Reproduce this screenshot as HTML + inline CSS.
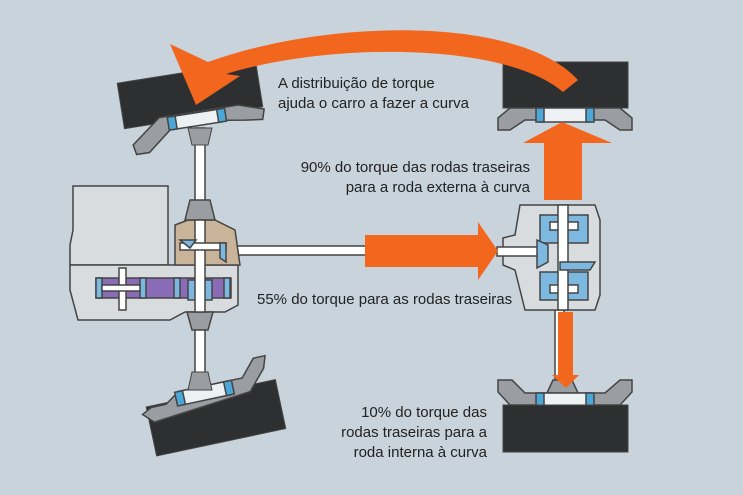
<!DOCTYPE html>
<html><head><style>
body{margin:0;background:#c9d3db;}
svg{display:block}
text{font-family:"Liberation Sans",sans-serif;font-size:15px;fill:#222}
</style></head><body>
<svg width="743" height="495" viewBox="0 0 743 495">
<rect width="743" height="495" fill="#c9d3db"/>
<g stroke="#444" stroke-width="1.5" fill="#fff">
<rect x="195" y="128" width="10" height="75"/>
<rect x="195" y="320" width="10" height="55"/>
<rect x="555" y="295" width="9" height="90"/>
<rect x="228" y="246" width="140" height="9"/>
</g>
<g transform="rotate(-9 190 95)">
<rect x="120" y="72" width="140" height="46" fill="#2d2f31" stroke="#444"/>
</g>
<g transform="rotate(-9 195 120)" stroke="#444" stroke-width="1.5">
<path d="M130 135 L160 112 L240 112 L265 120 L262 130 L245 128 L225 125 L170 125 L145 145 L132 145Z" fill="#9a9ea3"/>
<rect x="172" y="113" width="50" height="13" fill="#eef1f4"/>
<rect x="168" y="113" width="8" height="13" fill="#4aa7d8"/>
<rect x="218" y="113" width="8" height="13" fill="#4aa7d8"/>
</g>
<path d="M188 128 L212 128 L208 145 L192 145Z" fill="#9a9ea3" stroke="#444"/>
<g transform="rotate(-12 215 418)">
<rect x="150" y="393" width="132" height="50" fill="#2d2f31" stroke="#444"/>
</g>
<g transform="rotate(-12 210 395)" stroke="#444" stroke-width="1.5">
<path d="M140 400 L150 395 L165 395 L180 385 L245 385 L260 368 L272 368 L268 380 L250 400 L150 410Z" fill="#9a9ea3"/>
<rect x="180" y="385" width="50" height="14" fill="#eef1f4"/>
<rect x="176" y="385" width="8" height="14" fill="#4aa7d8"/>
<rect x="226" y="385" width="8" height="14" fill="#4aa7d8"/>
</g>
<path d="M192 372 L208 372 L212 390 L188 390Z" fill="#9a9ea3" stroke="#444"/>
<g stroke="#444" stroke-width="1.5">
<path d="M73 186 L168 186 L168 265 L70 265 L70 245 L73 230Z" fill="#d9dcdf"/>
<path d="M70 265 L238 265 L238 305 L225 312 L185 312 L170 320 L78 320 L70 290Z" fill="#d9dcdf"/>
<path d="M175 225 L188 220 L215 220 L235 230 L240 265 L175 265Z" fill="#c9b49a"/>
<path d="M190 200 L210 200 L215 220 L185 220Z" fill="#9a9ea3"/>
<path d="M187 312 L213 312 L208 330 L192 330Z" fill="#9a9ea3"/>
<rect x="96" y="278" width="135" height="20" fill="#8a6bb5"/>
<rect x="96" y="278" width="6" height="20" fill="#7db8e0"/>
<rect x="140" y="278" width="6" height="20" fill="#7db8e0"/>
<rect x="174" y="278" width="6" height="20" fill="#7db8e0"/>
<rect x="224" y="278" width="6" height="20" fill="#7db8e0"/>
<rect x="119" y="268" width="7" height="42" fill="#fff"/>
<rect x="102" y="285" width="38" height="6" fill="#fff"/>
<rect x="188" y="280" width="24" height="20" fill="#7db8e0"/>
<rect x="195" y="220" width="10" height="92" fill="#fff"/>
<rect x="180" y="243" width="46" height="7" fill="#fff"/>
<path d="M180 240 L196 240 L190 248Z" fill="#7db8e0"/>
<path d="M220 243 L226 243 L226 262 L220 258Z" fill="#7db8e0"/>
</g>
<g stroke="#444" stroke-width="1.5">
<path d="M520 205 L595 205 L600 220 L600 295 L595 310 L525 310 L515 270 L503 265 L503 238 L515 235Z" fill="#d9dcdf"/>
<rect x="497" y="247" width="45" height="9" fill="#fff"/>
<rect x="540" y="215" width="48" height="28" fill="#7db8e0"/>
<rect x="540" y="272" width="48" height="28" fill="#7db8e0"/>
<rect x="550" y="222" width="28" height="8" fill="#fff"/>
<rect x="550" y="285" width="28" height="8" fill="#fff"/>
<rect x="558" y="205" width="10" height="105" fill="#fff"/>
<path d="M537 240 L548 245 L548 262 L537 268Z" fill="#7db8e0"/>
<path d="M560 262 L595 262 L590 270 L560 270Z" fill="#7db8e0"/>
</g>
<rect x="503" y="62" width="125" height="46" fill="#2d2f31" stroke="#444"/>
<g stroke="#444" stroke-width="1.5">
<path d="M498 118 L510 108 L620 108 L632 118 L632 130 L620 130 L605 120 L525 120 L510 130 L498 130Z" fill="#9a9ea3"/>
<rect x="540" y="108" width="50" height="14" fill="#eef1f4"/>
<rect x="536" y="108" width="8" height="14" fill="#4aa7d8"/>
<rect x="586" y="108" width="8" height="14" fill="#4aa7d8"/>
</g>
<g stroke="#444" stroke-width="1.5">
<path d="M498 380 L512 380 L525 393 L605 393 L620 380 L632 380 L632 392 L620 405 L510 405 L498 392Z" fill="#9a9ea3"/>
<path d="M553 380 L572 380 L578 393 L547 393Z" fill="#9a9ea3"/>
<rect x="540" y="393" width="50" height="13" fill="#eef1f4"/>
<rect x="536" y="393" width="8" height="13" fill="#4aa7d8"/>
<rect x="586" y="393" width="8" height="13" fill="#4aa7d8"/>
</g>
<rect x="503" y="405" width="125" height="47" fill="#2d2f31" stroke="#444"/>
<g fill="#f2661e">
<path d="M365 235 L478 235 L478 222 L498 251 L478 280 L478 267 L365 267Z"/>
<path d="M544 200 L544 143 L523 143 L562 122 L612 143 L582 143 L582 200Z"/>
<path d="M558 312 L573 312 L573 375 L579 375 L566 388 L552 375 L558 375Z"/>
<path d="M578 80 C520 16, 330 18, 208 62 L170 44 L196 105 L240 76 L226 74 C330 42, 505 42, 563 92Z"/>
</g>
<text x="278" y="88">A distribuição de torque</text>
<text x="278" y="108">ajuda o carro a fazer a curva</text>
<text x="530" y="172" text-anchor="end">90% do torque das rodas traseiras</text>
<text x="530" y="192" text-anchor="end">para a roda externa à curva</text>
<text x="257" y="304">55% do torque para as rodas traseiras</text>
<text x="487" y="417" text-anchor="end">10% do torque das</text>
<text x="487" y="437" text-anchor="end">rodas traseiras para a</text>
<text x="487" y="457" text-anchor="end">roda interna à curva</text>
</svg>
</body></html>
